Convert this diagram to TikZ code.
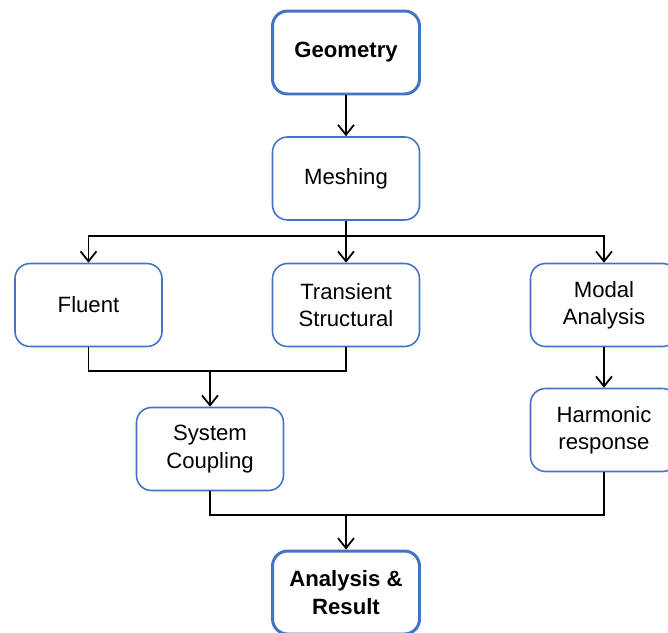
\documentclass[tikz,border=0pt]{standalone}
\usepackage{fontspec}
\setmainfont{Liberation Sans}
\usetikzlibrary{arrows.meta}
\definecolor{boxblue}{HTML}{4472C4}
\tikzset{
    stepbox/.style={draw=boxblue, line width=0.9pt, rounded corners=0.3cm,
        minimum width=2.94cm, minimum height=1.66cm, align=center,
        fill=white, font=\fontsize{12.6}{15.5}\selectfont},
    endbox/.style={stepbox, line width=1.7pt,
        font=\fontsize{12.6}{15.5}\selectfont\bfseries}
}
\begin{document}
\begin{tikzpicture}[>={Straight Barb[length=2mm,width=3.2mm]}, x=0.02cm, y=-0.02cm, line width=1pt]
\useasboundingbox (0,0) rectangle (668,632);
\clip (0,0) rectangle (668,632);
\node[endbox](geo) at (346,52.5){Geometry};
\node[stepbox](mesh) at (346,178.5){Meshing};
\node[stepbox](fluent) at (88.5,305){Fluent};
\node[stepbox](trans) at (346,305){Transient\\Structural};
\node[stepbox](modal) at (604,305){Modal\\Analysis};
\node[stepbox](harm) at (604,430){Harmonic\\response};
\node[stepbox](coup) at (210,449){System\\Coupling};
\node[endbox](res) at (346,592.5){Analysis \&\\Result};
\coordinate (split) at (346,236);
\coordinate (joinA) at (210,371);
\coordinate (joinB) at (346,515);
\draw[->](geo)--(mesh);
\draw(mesh)--(split);
\draw[->](split)-|(fluent.north);
\draw[->](split)--(trans);
\draw[->](split)-|(modal.north);
\draw(fluent.south)|-(joinA)-|(trans.south);
\draw[->](joinA)--(coup);
\draw[->](modal)--(harm);
\draw(coup.south)|-(joinB)-|(harm.south);
\draw[->](joinB)--(res);
\end{tikzpicture}
\end{document}
